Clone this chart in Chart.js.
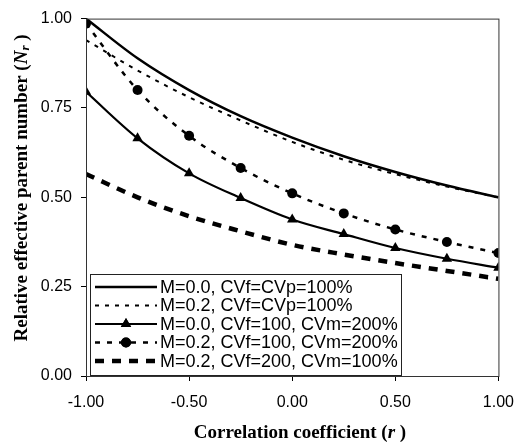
<!DOCTYPE html>
<html>
<head>
<meta charset="utf-8">
<script src="https://cdn.jsdelivr.net/npm/chart.js@4/dist/chart.umd.min.js"></script>
<style>
  body { margin: 0; background: #fff; }
  #wrap { width: 526px; height: 447px; }
</style>
</head>
<body>
<div id="wrap"><canvas id="chart" width="526" height="447"></canvas></div>
<script>
// correlation coefficient r
const rValues = [-1.0, -0.75, -0.5, -0.25, 0.0, 0.25, 0.5, 0.75, 1.0];

// relative effective parent number
const m0Equal = [1.0, 0.889, 0.80, 0.727, 0.667, 0.615, 0.571, 0.533, 0.50];
const m2Equal = [0.94, 0.855, 0.78, 0.715, 0.655, 0.605, 0.565, 0.53, 0.50];
const m0Cvm200 = [0.795, 0.665, 0.567, 0.498, 0.438, 0.397, 0.358, 0.328, 0.303];
const m2Cvm200 = [0.986, 0.80, 0.672, 0.582, 0.511, 0.455, 0.41, 0.375, 0.344];
const m2Cvf200 = [0.565, 0.50, 0.447, 0.405, 0.367, 0.34, 0.316, 0.294, 0.272];

const seriesLabels = [
  "M=0.0, CVf=CVp=100%",
  "M=0.2, CVf=CVp=100%",
  "M=0.0, CVf=100, CVm=200%",
  "M=0.2, CVf=100, CVm=200%",
  "M=0.2, CVf=200, CVm=100%"
];

const xTicks = [-1.0, -0.5, 0.0, 0.5, 1.0];
const yTicks = [0.0, 0.25, 0.5, 0.75, 1.0];

const toPoints = (vals) => vals.map((v, i) => ({ x: rValues[i], y: v }));

const lineStyles = [
  { width: 2.5, dash: [], point: false, radius: 0 },
  { width: 2, dash: [4, 6], point: false, radius: 0 },
  { width: 2.2, dash: [], point: "triangle", radius: 6 },
  { width: 2.5, dash: [5, 7], point: "circle", radius: 5 },
  { width: 4.5, dash: [9, 8], point: false, radius: 0 }
];
const allValues = [m0Equal, m2Equal, m0Cvm200, m2Cvm200, m2Cvf200];

const datasets = allValues.map((vals, i) => ({
  label: seriesLabels[i],
  data: toPoints(vals),
  borderColor: "#000",
  backgroundColor: "#000",
  borderWidth: lineStyles[i].width,
  borderDash: lineStyles[i].dash,
  pointStyle: lineStyles[i].point || "circle",
  pointRadius: lineStyles[i].radius,
  pointHoverRadius: lineStyles[i].radius,
  pointBorderWidth: 0,
  cubicInterpolationMode: "monotone",
  fill: false
}));

// frame, legend box and axis titles drawn on top of the plot
const decorations = {
  id: "decorations",
  afterDraw(chart) {
    const ctx = chart.ctx;
    const a = chart.chartArea;
    ctx.save();

    // plot frame
    ctx.strokeStyle = "#333";
    ctx.lineWidth = 1;
    ctx.strokeRect(a.left + 0.5, a.top + 0.5, a.right - a.left, a.bottom - a.top);

    // legend box
    const bx = 90, by = 274, bw = 311, bh = 101;
    ctx.fillStyle = "#fff";
    ctx.fillRect(bx, by, bw, bh);
    ctx.strokeStyle = "#222";
    ctx.strokeRect(bx + 0.5, by + 0.5, bw, bh);

    const rowY = [287, 305.5, 324, 342.5, 361];
    ctx.font = "18px 'Liberation Sans', Arial, sans-serif";
    ctx.textBaseline = "middle";
    ctx.textAlign = "left";
    seriesLabels.forEach((lbl, i) => {
      const st = lineStyles[i];
      const y = rowY[i];
      ctx.strokeStyle = "#000";
      ctx.lineWidth = st.width;
      ctx.setLineDash(st.dash);
      ctx.beginPath();
      ctx.moveTo(95, y);
      ctx.lineTo(157, y);
      ctx.stroke();
      ctx.setLineDash([]);
      if (st.point) {
        Chart.helpers.drawPoint(ctx, { pointStyle: st.point, radius: st.radius, borderWidth: 0 }, 126, y);
        ctx.fillStyle = "#000";
        ctx.fill();
      }
      ctx.fillStyle = "#000";
      ctx.fillText(lbl, 160, y + 1);
    });

    // axis titles (mixed bold / italic)
    const drawRuns = (runs, cx, cy) => {
      let total = 0;
      runs.forEach((r) => { ctx.font = r.font; total += ctx.measureText(r.text).width; });
      let x = cx - total / 2;
      runs.forEach((r) => {
        ctx.font = r.font;
        ctx.fillText(r.text, x, cy + (r.dy || 0));
        x += ctx.measureText(r.text).width;
      });
    };
    const bold = "bold 19px 'Liberation Serif', 'Times New Roman', serif";
    const boldItalic = "italic bold 19px 'Liberation Serif', 'Times New Roman', serif";
    const subItalic = "italic bold 13px 'Liberation Serif', 'Times New Roman', serif";
    ctx.fillStyle = "#000";
    ctx.textBaseline = "middle";

    drawRuns([
      { text: "Correlation coefficient (", font: bold },
      { text: "r", font: boldItalic },
      { text: " )", font: bold }
    ], 300, 433);

    ctx.save();
    ctx.translate(22, 188);
    ctx.rotate(-Math.PI / 2);
    drawRuns([
      { text: "Relative effective parent number (", font: bold },
      { text: "N", font: boldItalic },
      { text: "r", font: subItalic, dy: 4 },
      { text: " )", font: bold }
    ], 0, 0);
    ctx.restore();

    ctx.restore();
  }
};

const tickFont = { family: "'Liberation Sans', Arial, sans-serif", size: 16 };

new Chart(document.getElementById("chart"), {
  type: "line",
  data: { datasets: datasets },
  options: {
    responsive: false,
    animation: false,
    layout: { padding: { left: 0, top: 16, right: 25, bottom: 0 } },
    plugins: {
      legend: { display: false },
      tooltip: { enabled: false }
    },
    scales: {
      x: {
        type: "linear",
        min: -1,
        max: 1,
        afterBuildTicks: (scale) => { scale.ticks = xTicks.map((v) => ({ value: v })); },
        afterFit: (scale) => { scale.height = 71; },
        border: { display: true, color: "#000", width: 1 },
        grid: { drawOnChartArea: false, drawTicks: true, tickLength: 5, color: "#000" },
        ticks: {
          color: "#000",
          font: tickFont,
          padding: 12,
          maxRotation: 0,
          callback: (v) => v.toFixed(2)
        }
      },
      y: {
        type: "linear",
        min: 0,
        max: 1,
        afterBuildTicks: (scale) => { scale.ticks = yTicks.map((v) => ({ value: v })); },
        afterFit: (scale) => { scale.width = 86; },
        border: { display: true, color: "#000", width: 1 },
        grid: { drawOnChartArea: false, drawTicks: true, tickLength: 5, color: "#000" },
        ticks: {
          color: "#000",
          font: tickFont,
          padding: 9,
          callback: (v) => v.toFixed(2)
        }
      }
    }
  },
  plugins: [decorations]
});
</script>
</body>
</html>
